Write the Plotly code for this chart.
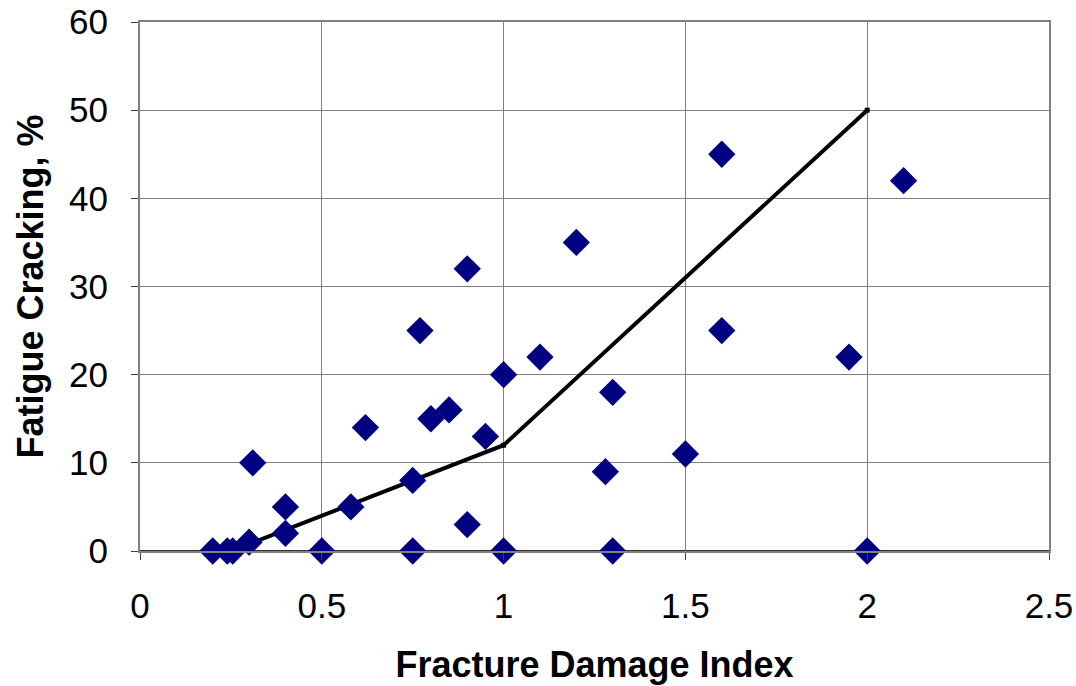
import plotly.graph_objects as go

# Measured data (Fracture Damage Index vs Fatigue Cracking %)
fdi = [0.2, 0.24, 0.255, 0.3, 0.31, 0.4, 0.4, 0.5, 0.58, 0.62, 0.75, 0.75, 0.77,
       0.8, 0.85, 0.9, 0.9, 0.95, 1.0, 1.0, 1.1, 1.2, 1.28, 1.3, 1.3, 1.5, 1.6,
       1.6, 1.95, 2.0, 2.1]
cracking = [0, 0, 0, 1, 10, 5, 2, 0, 5, 14, 8, 0, 25, 15, 16, 32, 3, 13, 20, 0,
            22, 35, 9, 18, 0, 11, 45, 25, 22, 0, 42]

# Transfer function (piecewise line)
model_x = [0.25, 1.0, 2.0]
model_y = [0, 12, 50]

x_ticks = [0, 0.5, 1, 1.5, 2, 2.5]
x_tick_labels = ["0", "0.5", "1", "1.5", "2", "2.5"]
y_ticks = [0, 10, 20, 30, 40, 50, 60]

FONT = "Liberation Sans, Arial, sans-serif"

fig = go.Figure()
fig.add_trace(go.Scatter(
    x=model_x, y=model_y, mode="lines+markers",
    line=dict(color="black", width=4),
    marker=dict(symbol="square", size=5, color="black"),
    showlegend=False, cliponaxis=False,
))
fig.add_trace(go.Scatter(
    x=fdi, y=cracking, mode="markers",
    marker=dict(symbol="diamond", size=21, color="#000080", line=dict(width=0)),
    showlegend=False, cliponaxis=False,
))

fig.update_layout(
    width=1076, height=686,
    margin=dict(l=140, r=27, t=22, b=135),
    paper_bgcolor="white", plot_bgcolor="white",
    font=dict(family=FONT, size=35, color="black"),
    xaxis=dict(
        range=[0, 2.5], tickvals=x_ticks, ticktext=x_tick_labels,
        showgrid=True, gridcolor="#7f7f7f", gridwidth=1,
        showline=True, linecolor="#808080", linewidth=2, mirror=True,
        ticks="outside", ticklen=7, tickcolor="#404040", tickwidth=1,
        zeroline=False, ticklabelstandoff=16, automargin=False,
        tickfont=dict(size=35),
        title=dict(text="<b>Fracture Damage Index</b>", font=dict(size=36), standoff=28),
    ),
    yaxis=dict(
        range=[0, 60], tickvals=y_ticks,
        showgrid=True, gridcolor="#7f7f7f", gridwidth=1,
        showline=True, linecolor="#808080", linewidth=2, mirror=True,
        ticks="outside", ticklen=7, tickcolor="#404040", tickwidth=1,
        zeroline=False, ticklabelstandoff=16, automargin=False,
        tickfont=dict(size=35),
        title=dict(text="<b>Fatigue Cracking, %</b>", font=dict(size=36), standoff=14),
    ),
)

# dark x-axis baseline at y=0
fig.add_shape(type="line", xref="paper", yref="y", x0=0, x1=1, y0=0, y1=0,
              line=dict(color="#303030", width=2), layer="below")

fig.write_html("out.html", config={"displayModeBar": False},
               post_script="document.body.style.margin='0';")
